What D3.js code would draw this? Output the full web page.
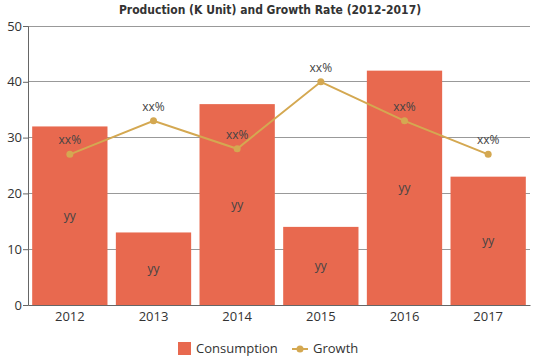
<!DOCTYPE html>
<html><head><meta charset="utf-8">
<script src="https://cdn.jsdelivr.net/npm/d3@7"></script>
<style>body{margin:0;background:#fff;}svg{display:block;}</style>
</head><body>
<svg id="c" width="539" height="359"></svg>
<script>
const years = ["2012","2013","2014","2015","2016","2017"];
const consumption = [32, 13, 36, 14, 42, 23];
const growth = [27, 33, 28, 40, 33, 27];
const yTicks = [0, 10, 20, 30, 40, 50];
const barLabels = ["yy","yy","yy","yy","yy","yy"];
const lineLabels = ["xx%","xx%","xx%","xx%","xx%","xx%"];
const title = "Production (K Unit) and Growth Rate (2012-2017)";

(function () {
const svg = d3.select("#c");
const mLeft = 28, mRight = 530, mTop = 26, mBottom = 305;
const x = d3.scaleBand().domain(years).range([mLeft, mRight]).paddingInner(0.1).paddingOuter(0.05);
const y = d3.scaleLinear().domain([0, 50]).range([mBottom, mTop]);
const barColor = "#E8694F", lineColor = "#D4A851";

svg.append("text").attr("x", 270).attr("y", 14).attr("text-anchor", "middle")
  .attr("font-family", "DejaVu Sans Condensed, DejaVu Sans").attr("font-weight", "bold")
  .attr("font-size", 12).attr("fill", "#333").text(title);

// grid
svg.append("g").selectAll("line").data(yTicks.filter(d => d > 0)).join("line")
  .attr("x1", mLeft).attr("x2", mRight).attr("y1", d => y(d)).attr("y2", d => y(d))
  .attr("stroke", "#999").attr("stroke-width", 1).attr("shape-rendering", "crispEdges");

// bars
svg.append("g").selectAll("rect").data(consumption).join("rect")
  .attr("x", (d, i) => x(years[i])).attr("width", x.bandwidth())
  .attr("y", d => y(d)).attr("height", d => y(0) - y(d)).attr("fill", barColor);

svg.append("g").selectAll("text").data(consumption).join("text")
  .attr("x", (d, i) => x(years[i]) + x.bandwidth() / 2).attr("y", d => (y(d) + y(0)) / 2 + 4)
  .attr("text-anchor", "middle").attr("font-family", "Open Sans, sans-serif").attr("font-size", 12)
  .attr("fill", "#444").text((d, i) => barLabels[i]);

// axes
const yAxis = d3.axisLeft(y).tickValues(yTicks).tickSize(5).tickPadding(3);
const gy = svg.append("g").attr("transform", `translate(${mLeft},0)`).call(yAxis);
gy.select(".domain").attr("stroke", "#666");
gy.selectAll(".tick line").attr("stroke", "#666");
gy.selectAll("text").attr("font-family", "Open Sans, sans-serif").attr("font-size", 13).attr("fill", "#333").attr("dx", 2);

const xAxis = d3.axisBottom(x).tickSize(0).tickPadding(7);
const gx = svg.append("g").attr("transform", `translate(0,${mBottom})`).call(xAxis);
gx.select(".domain").attr("stroke", "#666");
gx.selectAll("text").attr("font-family", "Open Sans, sans-serif").attr("font-size", 13).attr("fill", "#333");

// line
const cx = i => x(years[i]) + x.bandwidth() / 2;
svg.append("path").datum(growth)
  .attr("d", d3.line().x((d, i) => cx(i)).y(d => y(d)))
  .attr("fill", "none").attr("stroke", lineColor).attr("stroke-width", 2);
svg.append("g").selectAll("circle").data(growth).join("circle")
  .attr("cx", (d, i) => cx(i)).attr("cy", d => y(d)).attr("r", 3.5).attr("fill", lineColor);
svg.append("g").selectAll("text").data(growth).join("text")
  .attr("x", (d, i) => cx(i)).attr("y", d => y(d) - 10)
  .attr("text-anchor", "middle").attr("font-family", "Open Sans, sans-serif").attr("font-size", 12)
  .attr("fill", "#444").text((d, i) => lineLabels[i]);

// legend
const lg = svg.append("g");
lg.append("rect").attr("x", 178).attr("y", 342).attr("width", 13).attr("height", 13).attr("fill", barColor);
lg.append("text").attr("x", 196).attr("y", 353).attr("font-family", "Open Sans, sans-serif").attr("font-size", 13).attr("fill", "#333").text("Consumption");
lg.append("line").attr("x1", 292).attr("x2", 308).attr("y1", 349).attr("y2", 349).attr("stroke", lineColor).attr("stroke-width", 2);
lg.append("circle").attr("cx", 300).attr("cy", 349).attr("r", 3.5).attr("fill", lineColor);
lg.append("text").attr("x", 313).attr("y", 353).attr("font-family", "Open Sans, sans-serif").attr("font-size", 13).attr("fill", "#333").text("Growth");
})();
</script>
</body></html>
